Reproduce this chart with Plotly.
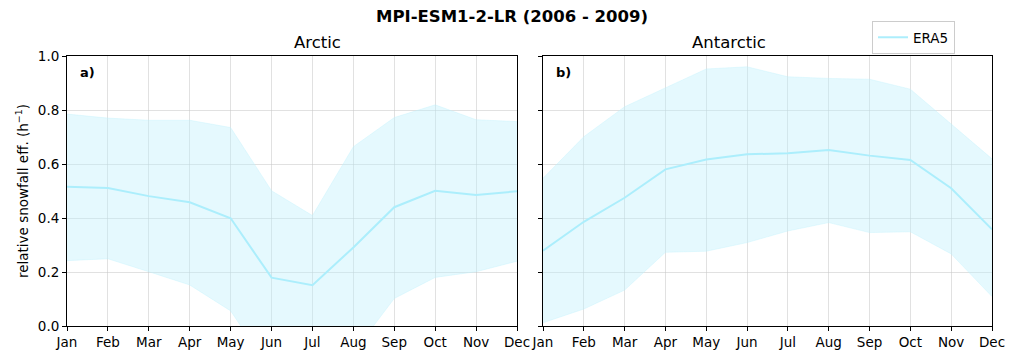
import plotly.graph_objects as go

months = ["Jan", "Feb", "Mar", "Apr", "May", "Jun", "Jul", "Aug", "Sep", "Oct", "Nov", "Dec"]

arctic_mean = [0.516, 0.511, 0.481, 0.458, 0.399, 0.179, 0.151, 0.291, 0.440, 0.501, 0.485, 0.499]
arctic_upper = [0.785, 0.770, 0.762, 0.762, 0.735, 0.501, 0.409, 0.664, 0.772, 0.819, 0.764, 0.757]
arctic_lower = [0.242, 0.249, 0.201, 0.152, 0.056, -0.17, -0.11, -0.098, 0.102, 0.180, 0.201, 0.240]

antarctic_mean = [0.279, 0.386, 0.475, 0.580, 0.617, 0.636, 0.640, 0.652, 0.631, 0.615, 0.510, 0.358]
antarctic_upper = [0.547, 0.701, 0.812, 0.883, 0.952, 0.960, 0.923, 0.917, 0.914, 0.877, 0.748, 0.619]
antarctic_lower = [0.012, 0.063, 0.133, 0.273, 0.277, 0.309, 0.352, 0.383, 0.346, 0.349, 0.267, 0.109]

xs = list(range(12))
LINE = "rgb(172,238,252)"
FILL = "rgba(190,240,252,0.4)"

W, H = 1007, 352  # page has an 8px body margin


def px_x(x):
    return (x - 8) / W


def px_y(y):
    return (H - (y - 8)) / H


fig = go.Figure()

panels = [
    ("x", "y", arctic_mean, arctic_upper, arctic_lower, True),
    ("x2", "y2", antarctic_mean, antarctic_upper, antarctic_lower, False),
]
for xa, ya, m, up, lo, show in panels:
    fig.add_trace(go.Scatter(x=xs, y=up, xaxis=xa, yaxis=ya, mode="lines",
                             line=dict(width=0.6, color="rgba(190,240,252,0.6)"),
                             showlegend=False, hoverinfo="skip"))
    fig.add_trace(go.Scatter(x=xs, y=lo, xaxis=xa, yaxis=ya, mode="lines",
                             line=dict(width=0.6, color="rgba(190,240,252,0.6)"),
                             fill="tonexty", fillcolor=FILL,
                             showlegend=False, hoverinfo="skip"))
    fig.add_trace(go.Scatter(x=xs, y=m, xaxis=xa, yaxis=ya, mode="lines",
                             line=dict(width=2, color=LINE),
                             name="ERA5", showlegend=show))

axis_common = dict(showline=True, linecolor="black", linewidth=1, mirror=True,
                   ticks="outside", ticklen=4, tickcolor="black", automargin=False,
                   showgrid=True, gridcolor="rgba(200,200,200,0.55)", gridwidth=1,
                   zeroline=False, tickfont=dict(size=13.5, color="black"))

xaxis_kw = dict(axis_common, range=[0, 11], tickmode="array", tickvals=xs, ticktext=months)
yaxis_kw = dict(axis_common, range=[0, 1], tickmode="array",
                tickvals=[0, 0.2, 0.4, 0.6, 0.8, 1.0],
                ticktext=["0.0", "0.2", "0.4", "0.6", "0.8", "1.0"])

ydom = [px_y(326), px_y(56)]
x1dom = [px_x(67), px_x(517)]
x2dom = [px_x(543), px_x(992)]

fig.update_layout(
    width=W, height=H,
    margin=dict(l=0, r=0, t=0, b=0),
    paper_bgcolor="white", plot_bgcolor="white",
    font=dict(family="DejaVu Sans", color="black"),
    xaxis=dict(xaxis_kw, domain=x1dom, anchor="y"),
    yaxis=dict(yaxis_kw, domain=ydom, anchor="x",
               title=dict(text="relative snowfall eff. (h<sup>−1</sup>)", font=dict(size=13.5), standoff=6)),
    xaxis2=dict(xaxis_kw, domain=x2dom, anchor="y2"),
    yaxis2=dict(yaxis_kw, domain=ydom, anchor="x2", showticklabels=False),
    legend=dict(x=px_x(955), y=px_y(21), xanchor="right", yanchor="top",
                bordercolor="rgb(204,204,204)", borderwidth=1, bgcolor="white",
                font=dict(size=13.5)),
    annotations=[
        dict(text="<b>MPI-ESM1-2-LR (2006 - 2009)</b>", x=0.5, y=px_y(17), xref="paper", yref="paper",
             xanchor="center", yanchor="middle", showarrow=False, font=dict(size=16.5)),
        dict(text="Arctic", x=sum(x1dom) / 2, y=ydom[1], xref="paper", yref="paper",
             yanchor="bottom", yshift=2, showarrow=False, font=dict(size=16.5)),
        dict(text="Antarctic", x=sum(x2dom) / 2, y=ydom[1], xref="paper", yref="paper",
             yanchor="bottom", yshift=2, showarrow=False, font=dict(size=16.5)),
        dict(text="<b>a)</b>", x=0.025, y=0.975, xref="x domain", yref="y domain",
             xanchor="left", yanchor="top", showarrow=False, font=dict(size=13)),
        dict(text="<b>b)</b>", x=0.025, y=0.975, xref="x2 domain", yref="y2 domain",
             xanchor="left", yanchor="top", showarrow=False, font=dict(size=13)),
    ],
)

fig.write_html("out.html")
